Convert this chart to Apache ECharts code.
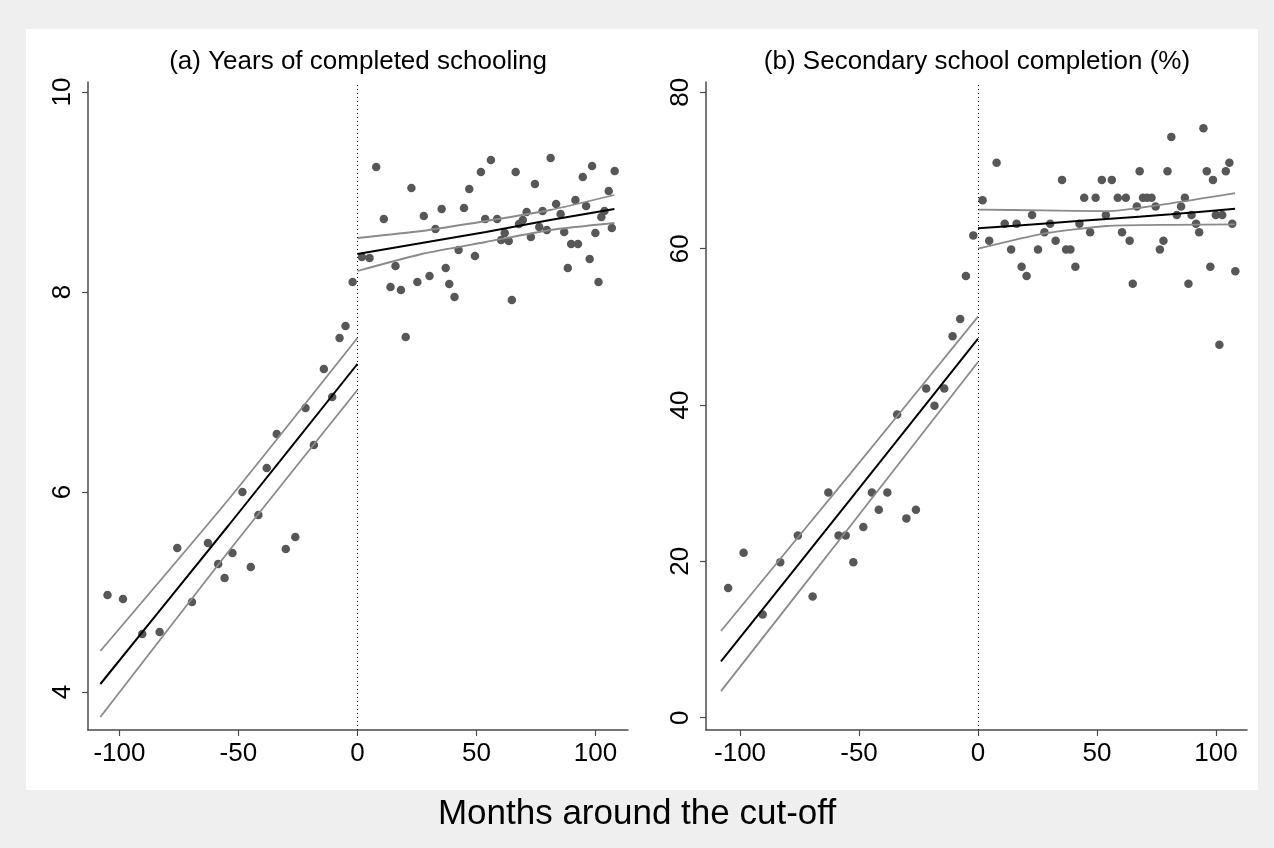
<!DOCTYPE html>
<html>
<head>
<meta charset="utf-8">
<script src="https://cdn.jsdelivr.net/npm/echarts@6/dist/echarts.min.js"></script>
<style>
  html, body { margin: 0; padding: 0; background: #efefef; }
  #chart { width: 1274px; height: 848px; }
</style>
</head>
<body>
<div id="chart"></div>
<script>
// (a) years of completed schooling, binned means
const schoolPre = [
  [-105, 4.97], [-98.5, 4.93], [-90.4, 4.58], [-83.1, 4.60], [-75.7, 5.44], [-69.5, 4.90],
  [-62.8, 5.49], [-58.5, 5.28], [-55.8, 5.14], [-52.5, 5.39], [-48.3, 6.00], [-44.8, 5.25],
  [-41.6, 5.77], [-38.1, 6.24], [-33.9, 6.58], [-30.1, 5.43], [-26.1, 5.55], [-21.8, 6.84],
  [-18.3, 6.47], [-14.1, 7.23], [-10.6, 6.95], [-7.5, 7.54], [-5.0, 7.66], [-2.0, 8.10]
];
const schoolPost = [
  [1.9, 8.35], [5.1, 8.34], [7.9, 9.25], [11.1, 8.73], [13.9, 8.05], [16.0, 8.26], [18.3, 8.02],
  [20.3, 7.55], [22.7, 9.04], [25.2, 8.10], [27.9, 8.76], [30.3, 8.16], [32.8, 8.63], [35.4, 8.83],
  [37.1, 8.24], [38.6, 8.08], [40.8, 7.95], [42.5, 8.42], [44.8, 8.84], [47.0, 9.03], [49.4, 8.36],
  [51.9, 9.20], [53.7, 8.73], [56.1, 9.32], [58.7, 8.73], [60.4, 8.52], [61.9, 8.59], [63.6, 8.51],
  [64.9, 7.92], [66.5, 9.20], [67.9, 8.68], [69.5, 8.72], [71.1, 8.80], [72.9, 8.55], [74.6, 9.08],
  [76.4, 8.65], [77.8, 8.81], [79.6, 8.62], [81.2, 9.34], [83.5, 8.88], [85.4, 8.78], [86.9, 8.60],
  [88.4, 8.24], [89.8, 8.48], [91.6, 8.92], [92.7, 8.48], [94.7, 9.15], [96.1, 8.86], [97.6, 8.33],
  [98.6, 9.26], [100.0, 8.59], [101.3, 8.10], [102.5, 8.75], [103.8, 8.81], [105.6, 9.01],
  [106.9, 8.64], [108.1, 9.21]
];

// (b) secondary school completion (%), binned means
const secPre = [
  [-105, 16.6], [-98.5, 21.1], [-90.5, 13.2], [-83.1, 19.9], [-75.7, 23.3], [-69.5, 15.5],
  [-62.9, 28.8], [-58.6, 23.3], [-55.6, 23.3], [-52.4, 19.9], [-48.2, 24.4], [-44.6, 28.8],
  [-41.7, 26.6], [-38.1, 28.8], [-34.0, 38.8], [-30.1, 25.5], [-26.1, 26.6], [-21.8, 42.1],
  [-18.3, 39.9], [-14.2, 42.1], [-10.7, 48.8], [-7.5, 51.0], [-5.1, 56.5], [-2.0, 61.7]
];
const secPost = [
  [1.9, 66.2], [4.7, 61.0], [7.8, 71.0], [11.2, 63.2], [13.9, 59.9], [16.2, 63.2], [18.3, 57.7],
  [20.4, 56.5], [22.7, 64.3], [25.2, 59.9], [27.9, 62.1], [30.3, 63.2], [32.6, 61.0], [35.3, 68.8],
  [37.0, 59.9], [38.8, 59.9], [40.9, 57.7], [42.6, 63.2], [44.6, 66.5], [47.1, 62.1], [49.4, 66.5],
  [52.0, 68.8], [53.7, 64.3], [56.2, 68.8], [58.7, 66.5], [60.5, 62.1], [62.1, 66.5], [63.7, 61.0],
  [65.0, 55.5], [66.7, 65.4], [67.9, 69.9], [69.3, 66.5], [71.0, 66.5], [72.9, 66.5], [74.6, 65.4],
  [76.4, 59.9], [77.9, 61.0], [79.6, 69.9], [81.2, 74.3], [83.5, 64.3], [85.3, 65.4], [86.9, 66.5],
  [88.4, 55.5], [89.7, 64.3], [91.6, 63.2], [92.9, 62.1], [94.7, 75.4], [96.1, 69.9], [97.6, 57.7],
  [98.7, 68.8], [99.9, 64.3], [101.4, 47.7], [102.6, 64.3], [104.1, 69.9], [105.6, 71.0],
  [106.8, 63.2], [108.1, 57.1]
];

// fitted lines and 95% bands, read at these months
const fitXPre = [-108, -54, 0];
const fitXPost = [0, 27, 54, 81, 108];

const schoolFitPre = [4.08, 5.67, 7.28];
const schoolUpPre = [4.41, 5.93, 7.54];
const schoolLoPre = [3.75, 5.41, 7.02];
const schoolFitPost = [8.38, 8.49, 8.60, 8.72, 8.83];
const schoolUpPost = [8.54, 8.61, 8.71, 8.82, 8.97];
const schoolLoPost = [8.21, 8.38, 8.50, 8.62, 8.69];

const secFitPre = [7.2, 27.8, 48.5];
const secUpPre = [11.1, 31.1, 51.3];
const secLoPre = [3.4, 24.4, 45.5];
const secFitPost = [62.6, 63.2, 63.8, 64.4, 65.1];
const secUpPost = [65.0, 64.9, 64.8, 65.8, 67.1];
const secLoPost = [60.0, 61.9, 62.9, 63.05, 63.1];

const xTicks = [-100, -50, 0, 50, 100];
const schoolTicks = [4, 6, 8, 10];
const secTicks = [0, 20, 40, 60, 80];

const FONT = 'Liberation Sans, Arial, sans-serif';
const axisColor = '#4a4a4a';

function pairs(xs, ys) {
  return xs.map((x, i) => [x, ys[i]]);
}

function xAxisFor(idx, min, max) {
  return {
    type: 'value', gridIndex: idx, min: min, max: max,
    axisLine: { show: true, onZero: false, lineStyle: { color: axisColor, width: 1.5 } },
    axisTick: { show: true, customValues: xTicks, length: 6, lineStyle: { color: axisColor, width: 1.2 } },
    axisLabel: { customValues: xTicks, color: '#000', fontSize: 26, fontFamily: FONT, margin: 11 },
    splitLine: { show: false }
  };
}

function yAxisFor(idx, min, max, ticks) {
  return {
    type: 'value', gridIndex: idx, min: min, max: max,
    axisLine: { show: true, onZero: false, lineStyle: { color: axisColor, width: 1.5 } },
    axisTick: { show: true, customValues: ticks, length: 6, lineStyle: { color: axisColor, width: 1.2 } },
    axisLabel: { customValues: ticks, rotate: 90, color: '#000', fontSize: 26, fontFamily: FONT, margin: 12 },
    splitLine: { show: false }
  };
}

function dots(idx, data, withCutoff) {
  const s = {
    type: 'scatter', xAxisIndex: idx, yAxisIndex: idx, data: data,
    symbolSize: 8.5, itemStyle: { color: '#575757', opacity: 1 }, z: 3
  };
  if (withCutoff) {
    s.markLine = {
      silent: true, symbol: 'none', label: { show: false },
      lineStyle: { color: '#000', width: 1, type: [1, 3] },
      data: [{ xAxis: 0 }]
    };
  }
  return s;
}

function line(idx, data, color, width) {
  return {
    type: 'line', xAxisIndex: idx, yAxisIndex: idx, data: data,
    showSymbol: false, symbol: 'none', smooth: 0.2,
    lineStyle: { color: color, width: width }, z: 4
  };
}

const gray = '#8a8a8a';

const option = {
  backgroundColor: '#efefef',
  animation: false,
  graphic: [
    { type: 'rect', z: -10, silent: true, shape: { x: 26, y: 29, width: 1232, height: 761 }, style: { fill: '#ffffff' } },
    { type: 'text', x: 358, y: 62, style: { text: '(a) Years of completed schooling', fontSize: 26, fontFamily: FONT, fill: '#000', textAlign: 'center', textVerticalAlign: 'middle' } },
    { type: 'text', x: 977, y: 62, style: { text: '(b) Secondary school completion (%)', fontSize: 26, fontFamily: FONT, fill: '#000', textAlign: 'center', textVerticalAlign: 'middle' } },
    { type: 'text', x: 637, y: 814, style: { text: 'Months around the cut-off', fontSize: 35, fontFamily: FONT, fill: '#000', textAlign: 'center', textVerticalAlign: 'middle' } }
  ],
  grid: [
    { left: 88, top: 82, width: 540, height: 648 },
    { left: 706, top: 82, width: 541, height: 648 }
  ],
  xAxis: [xAxisFor(0, -113.2, 113.7), xAxisFor(1, -114.3, 113)],
  yAxis: [yAxisFor(0, 3.62, 10.1, schoolTicks), yAxisFor(1, -1.57, 81.32, secTicks)],
  series: [
    dots(0, schoolPre, true),
    dots(0, schoolPost, false),
    line(0, pairs(fitXPre, schoolUpPre), gray, 1.8),
    line(0, pairs(fitXPre, schoolLoPre), gray, 1.8),
    line(0, pairs(fitXPre, schoolFitPre), '#000', 2),
    line(0, pairs(fitXPost, schoolUpPost), gray, 1.8),
    line(0, pairs(fitXPost, schoolLoPost), gray, 1.8),
    line(0, pairs(fitXPost, schoolFitPost), '#000', 2),

    dots(1, secPre, true),
    dots(1, secPost, false),
    line(1, pairs(fitXPre, secUpPre), gray, 1.8),
    line(1, pairs(fitXPre, secLoPre), gray, 1.8),
    line(1, pairs(fitXPre, secFitPre), '#000', 2),
    line(1, pairs(fitXPost, secUpPost), gray, 1.8),
    line(1, pairs(fitXPost, secLoPost), gray, 1.8),
    line(1, pairs(fitXPost, secFitPost), '#000', 2)
  ]
};

const chart = echarts.init(document.getElementById('chart'));
chart.setOption(option);
</script>
</body>
</html>
